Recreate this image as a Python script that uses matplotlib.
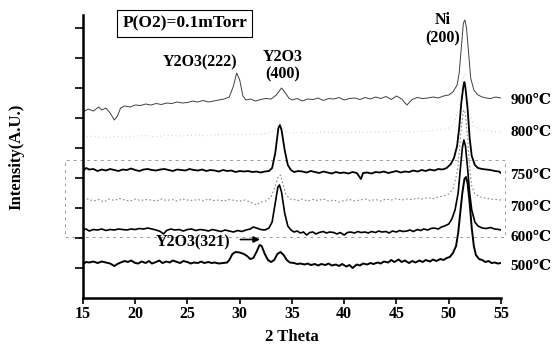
import matplotlib
matplotlib.use("Agg")
import matplotlib.pyplot as plt
from matplotlib.patches import Rectangle

plt.rcParams['font.family'] = ['Liberation Serif', 'DejaVu Serif', 'DejaVu Sans']
plt.rcParams['font.weight'] = 'bold'

# ---- data (2 theta in degrees, intensity in arbitrary units) ----
tt_900 = [15.0, 15.5, 16.0, 16.5, 16.8, 17.2, 17.6, 18.0, 18.3, 18.6, 19.0, 19.5, 20.0, 20.5,
          21.0, 21.5, 22.0, 22.5, 23.0, 23.5, 24.0, 24.5, 25.0, 25.5, 26.0, 26.5, 27.0, 27.5,
          28.0, 28.5, 29.0, 29.4, 29.7, 30.0, 30.3, 30.6, 31.0, 31.5, 32.0, 32.5, 33.0, 33.5,
          34.0, 34.3, 34.7, 35.0, 35.5, 36.0, 36.5, 37.0, 37.5, 38.0, 38.5, 39.0, 39.5, 40.0,
          40.5, 41.0, 41.5, 42.0, 42.5, 43.0, 43.5, 44.0, 44.5, 45.0, 45.5, 46.0, 46.5, 47.0,
          47.5, 48.0, 48.5, 49.0, 49.5, 50.0, 50.4, 50.8, 51.0, 51.2, 51.4, 51.55, 51.7, 51.9,
          52.1, 52.4, 52.8, 53.2, 53.6, 54.0, 54.5, 55.0]
I_900 = [1860, 1890, 1870, 1910, 1880, 1900, 1850, 1780, 1820, 1900, 1920, 1910, 1930, 1925,
         1940, 1930, 1945, 1935, 1950, 1945, 1960, 1950, 1955, 1970, 1960, 1975, 1960, 1970,
         1980, 1990, 2010, 2120, 2250, 2180, 2020, 1980, 1990, 1970, 1985, 1995, 1990, 2030,
         2100, 2060, 2000, 1980, 1995, 1970, 1990, 1985, 2000, 1975, 1995, 1990, 2005, 1980,
         1995, 2000, 1985, 2005, 1990, 2010, 1995, 2015, 1985, 2020, 1990, 1930, 1985, 2005,
         1995, 2000, 2010, 2000, 2020, 2030, 2060, 2130, 2250, 2500, 2750, 2780, 2700, 2450,
         2200, 2080, 2030, 2010, 2000, 1995, 2010, 2000]

tt_800 = [15, 16, 17, 18, 19, 20, 21, 22, 23, 24, 25, 26, 27, 28, 29, 30, 31, 32, 33, 33.5,
          33.8, 34.1, 34.5, 35, 36, 37, 38, 39, 40, 41, 42, 43, 44, 45, 46, 47, 48, 49, 50,
          50.5, 51.0, 51.3, 51.5, 51.7, 52.0, 52.4, 53, 54, 55]
I_800 = [1610, 1620, 1600, 1615, 1610, 1620, 1625, 1610, 1630, 1620, 1625, 1630, 1620, 1635,
         1640, 1630, 1640, 1635, 1660, 1700, 1760, 1700, 1660, 1650, 1655, 1650, 1660, 1655,
         1650, 1660, 1655, 1665, 1660, 1670, 1660, 1665, 1670, 1680, 1700, 1740, 1900, 2150,
         2250, 2150, 1850, 1720, 1680, 1670, 1660]

tt_750 = [15.0, 15.3, 15.6, 16.0, 16.4, 16.8, 17.2, 17.6, 18.0, 18.4, 18.8, 19.2, 19.6, 20.0,
          20.4, 20.8, 21.2, 21.6, 22.0, 22.4, 22.8, 23.2, 23.6, 24.0, 24.4, 24.8, 25.2, 25.6,
          26.0, 26.4, 26.8, 27.2, 27.6, 28.0, 28.4, 28.8, 29.2, 29.6, 30.0, 30.4, 30.8, 31.2,
          31.6, 32.0, 32.4, 32.8, 33.1, 33.4, 33.7, 33.85, 34.0, 34.3, 34.6, 34.9, 35.2, 35.6,
          36.0, 36.4, 36.8, 37.2, 37.6, 38.0, 38.4, 38.8, 39.2, 39.6, 40.0, 40.4, 40.8, 41.2,
          41.6, 41.8, 42.2, 42.6, 43.0, 43.4, 43.8, 44.2, 44.6, 45.0, 45.4, 45.8, 46.2, 46.6,
          47.0, 47.4, 47.8, 48.2, 48.6, 49.0, 49.4, 49.8, 50.0, 50.2, 50.5, 50.8, 51.0, 51.2,
          51.4, 51.5, 51.6, 51.8, 52.0, 52.2, 52.5, 52.8, 53.2, 53.6, 54.0, 54.4, 54.8, 55.0]
I_750 = [1270, 1300, 1285, 1290, 1270, 1285, 1275, 1290, 1280, 1270, 1285, 1280, 1295, 1280,
         1270, 1285, 1290, 1280, 1275, 1285, 1290, 1280, 1270, 1285, 1280, 1275, 1290, 1280,
         1275, 1285, 1270, 1280, 1275, 1265, 1280, 1270, 1275, 1260, 1270, 1265, 1270, 1260,
         1265, 1255, 1265, 1270, 1300, 1450, 1700, 1730, 1680, 1480, 1330, 1280, 1260, 1270,
         1265, 1255, 1270, 1260, 1250, 1265, 1255, 1245, 1260, 1250, 1255, 1245, 1260, 1250,
         1190, 1250, 1255, 1245, 1260, 1255, 1265, 1250, 1260, 1270, 1255, 1265, 1260, 1275,
         1265, 1280, 1270, 1285, 1275, 1290, 1285, 1300, 1320, 1340, 1400, 1520, 1700, 1950,
         2120, 2160, 2100, 1900, 1600, 1420, 1330, 1300, 1290, 1285, 1280, 1270, 1265, 1250]

tt_700 = [15, 15.5, 16, 16.5, 17, 17.5, 18, 18.5, 19, 19.5, 20, 20.5, 21, 21.5, 22, 22.5, 23,
          23.5, 24, 24.5, 25, 25.5, 26, 26.5, 27, 27.5, 28, 28.5, 29, 29.5, 30, 30.5, 31, 31.6,
          32.0, 32.5, 33.0, 33.4, 33.7, 33.9, 34.1, 34.4, 34.8, 35.2, 35.6, 36, 36.5, 37, 37.5,
          38, 38.5, 39, 39.5, 40, 40.5, 41, 41.5, 42, 42.5, 43, 43.5, 44, 44.5, 45, 45.5, 46,
          46.5, 47, 47.5, 48, 48.5, 49, 49.5, 50.0, 50.4, 50.8, 51.0, 51.2, 51.4, 51.5, 51.6,
          51.8, 52.0, 52.2, 52.5, 53, 53.5, 54, 54.5, 55]
I_700 = [980, 990, 970, 985, 960, 990, 975, 995, 980, 970, 990, 975, 985, 980, 970, 990, 975,
         985, 970, 990, 980, 975, 985, 970, 990, 975, 980, 970, 985, 975, 970, 980, 960, 930,
         960, 970, 1010, 1120, 1220, 1230, 1150, 1040, 990, 985, 975, 990, 970, 985, 975,
         990, 970, 980, 960, 975, 985, 970, 980, 990, 975, 985, 970, 990, 980, 995, 980, 990,
         985, 1000, 990, 1005, 995, 1010, 1020, 1040, 1090, 1250, 1450, 1700, 1870, 1880, 1840,
         1600, 1300, 1120, 1040, 1010, 1000, 990, 985, 980]

tt_600 = [15.0, 15.3, 15.6, 16.0, 16.4, 16.8, 17.2, 17.6, 18.0, 18.4, 18.8, 19.2, 19.6, 20.0,
          20.4, 20.8, 21.2, 21.6, 22.0, 22.4, 22.7, 23.0, 23.4, 23.8, 24.2, 24.6, 25.0, 25.4,
          25.8, 26.2, 26.6, 27.0, 27.4, 27.8, 28.2, 28.6, 29.0, 29.4, 29.8, 30.2, 30.6, 31.0,
          31.3, 31.6, 32.0, 32.4, 32.8, 33.1, 33.4, 33.65, 33.8, 34.0, 34.3, 34.6, 34.9, 35.2,
          35.5, 35.8, 36.1, 36.4, 36.7, 37.0, 37.3, 37.6, 38.0, 38.3, 38.6, 39.0, 39.3, 39.6,
          40.0, 40.3, 40.6, 41.0, 41.3, 41.6, 42.0, 42.3, 42.6, 43.0, 43.3, 43.6, 44.0, 44.3,
          44.6, 45.0, 45.3, 45.6, 46.0, 46.3, 46.6, 47.0, 47.3, 47.6, 48.0, 48.3, 48.6, 49.0,
          49.3, 49.6, 50.0, 50.3, 50.6, 50.9, 51.1, 51.3, 51.45, 51.6, 51.8, 52.0, 52.2, 52.5,
          52.8, 53.2, 53.6, 54.0, 54.4, 54.8, 55.0]
I_600 = [680, 690, 670, 685, 680, 690, 675, 685, 680, 690, 685, 680, 690, 685,
         695, 690, 700, 690, 680, 665, 640, 675, 690, 680, 685, 670, 685, 690,
         675, 685, 680, 670, 685, 675, 665, 680, 670, 660, 675, 665, 680, 690,
         710, 700, 685, 680, 700, 760, 950, 1110, 1130, 1060, 850, 720, 680, 660,
         670, 650, 660, 630, 655, 660, 640, 655, 665, 650, 660, 655, 640, 655,
         630, 655, 660, 650, 665, 655, 660, 650, 665, 655, 670, 660, 665, 650,
         670, 660, 675, 665, 670, 680, 665, 685, 675, 690, 680, 695, 700, 690,
         710, 720, 740, 790, 880, 1050, 1280, 1500, 1580, 1520, 1300, 1050, 880, 760,
         720, 700, 695, 705, 690, 685, 680]

tt_500 = [15.0, 15.3, 15.6, 16.0, 16.4, 16.8, 17.2, 17.6, 18.0, 18.3, 18.6, 19.0, 19.3, 19.6,
          20.0, 20.3, 20.6, 21.0, 21.3, 21.6, 22.0, 22.3, 22.6, 23.0, 23.3, 23.6, 24.0, 24.3,
          24.6, 25.0, 25.3, 25.6, 26.0, 26.3, 26.6, 27.0, 27.3, 27.6, 28.0, 28.4, 28.8, 29.0,
          29.3, 29.6, 30.0, 30.4, 30.7, 31.0, 31.3, 31.6, 31.9, 32.1, 32.4, 32.7, 33.0, 33.3,
          33.6, 33.9, 34.2, 34.5, 34.8, 35.2, 35.5, 35.8, 36.2, 36.5, 36.8, 37.2, 37.5, 37.8,
          38.2, 38.5, 38.8, 39.2, 39.5, 39.8, 40.2, 40.5, 40.8, 41.2, 41.5, 41.8, 42.2, 42.5,
          42.8, 43.2, 43.5, 43.8, 44.2, 44.5, 44.8, 45.2, 45.5, 45.8, 46.2, 46.5, 46.8, 47.2,
          47.5, 47.8, 48.2, 48.5, 48.8, 49.2, 49.5, 49.8, 50.1, 50.4, 50.7, 50.9, 51.1, 51.3,
          51.5, 51.65, 51.8, 52.0, 52.2, 52.4, 52.6, 52.9, 53.2, 53.5, 53.8, 54.1, 54.4, 54.7,
          55.0]
I_500 = [340, 360, 355, 365, 350, 365, 355, 345, 320, 340, 355, 370, 360, 375,
         350, 345, 365, 350, 370, 345, 360, 375, 350, 365, 355, 375, 360, 350,
         370, 360, 345, 355, 350, 365, 350, 360, 350, 355, 345, 350, 355, 380,
         440, 460, 455, 440, 420, 390, 400, 460, 530, 520, 440, 380, 360, 380,
         440, 460, 430, 380, 355, 350, 340, 345, 335, 345, 330, 340, 325, 340,
         330, 345, 325, 335, 320, 340, 315, 330, 300, 335, 325, 345, 335, 350,
         340, 355, 345, 365, 355, 380, 360, 385, 360, 375, 350, 370, 355, 375,
         360, 380, 365, 385, 370, 390, 380, 400, 410, 450, 520, 650, 850, 1050,
         1190, 1210, 1150, 950, 700, 520, 430, 390, 380, 360, 370, 350, 355, 345,
         350]

temp_labels = ['900\u2103', '800\u2103', '750\u2103', '700\u2103', '600\u2103', '500\u2103']
label_levels = [1980, 1660, 1230, 910, 610, 320]

# dotted frame drawn over the 600-750 region of the scan
frame_x = (13.28, 55.38)
frame_y = (610, 1380)

fig = plt.figure(figsize=(5.55, 3.45), dpi=100)
ax = fig.add_axes([0.1495, 0.1362, 0.7532, 0.8203])

ax.plot(tt_500, I_500, color='black', lw=1.4)
ax.plot(tt_600, I_600, color='black', lw=1.2)
ax.plot(tt_700, I_700, color='#8a8a8a', lw=0.8, ls=(0, (1.5, 2)))
ax.plot(tt_750, I_750, color='black', lw=1.3)
ax.plot(tt_800, I_800, color='#cccccc', lw=0.7, ls=(0, (1, 3)))
ax.plot(tt_900, I_900, color='#404040', lw=0.7)

ax.add_patch(Rectangle((frame_x[0], frame_y[0]), frame_x[1] - frame_x[0], frame_y[1] - frame_y[0],
                       fill=False, ec='#9a9a9a', lw=0.7, ls=(0, (3, 4)), clip_on=False))

for lab, lev in zip(temp_labels, label_levels):
    ax.text(55.9, lev, lab, fontsize=11, fontweight='bold', va='center', ha='left',
            clip_on=False)

ax.text(24.75, 2745, 'P(O2)=0.1mTorr', fontsize=12.5, fontweight='bold', ha='center',
        va='center', bbox=dict(boxstyle='square,pad=0.3', fc='white', ec='black', lw=0.8))
ax.text(26.2, 2360, 'Y2O3(222)', fontsize=11.5, fontweight='bold', ha='center', va='center')
ax.text(34.1, 2320, 'Y2O3\n(400)', fontsize=11.5, fontweight='bold', ha='center', va='center',
        linespacing=1.1)
ax.text(49.4, 2690, 'Ni\n(200)', fontsize=11.5, fontweight='bold', ha='center', va='center',
        linespacing=1.15)
ax.text(25.5, 555, 'Y2O3(321)', fontsize=11.5, fontweight='bold', ha='center', va='center')
ax.annotate('', xy=(32.2, 585), xytext=(29.8, 585),
            arrowprops=dict(arrowstyle='-|>', color='black', lw=1.2, mutation_scale=9))

ax.set_xlim(15, 55)
ax.set_ylim(0, 2830)
ax.set_xticks(range(15, 56, 5))
ax.set_yticks(range(300, 2701, 300))
ax.set_yticklabels([])
ax.tick_params(axis='x', direction='out', length=4, width=1.2, pad=2, labelsize=11.5)
ax.tick_params(axis='y', direction='out', length=6, width=1.2)
for lab in ax.get_xticklabels():
    lab.set_fontweight('bold')

for side in ('top', 'right'):
    ax.spines[side].set_visible(False)
for side in ('left', 'bottom'):
    ax.spines[side].set_linewidth(1.8)

ax.set_ylabel('Intensity(A.U.)', fontsize=12, fontweight='bold')
ax.yaxis.set_label_coords(-0.14, 0.5)
ax.set_xlabel('2 Theta', fontsize=12, fontweight='bold')
ax.xaxis.set_label_coords(0.5, -0.11)

fig.savefig('out.png', dpi=100)
